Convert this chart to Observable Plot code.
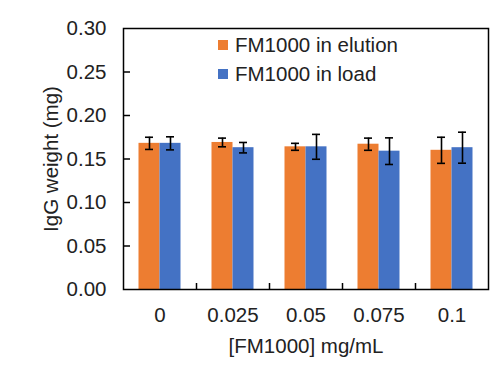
<!DOCTYPE html>
<html>
<head>
<meta charset="utf-8">
<script src="https://cdn.jsdelivr.net/npm/d3@7"></script>
<script src="https://cdn.jsdelivr.net/npm/@observablehq/plot@0.6"></script>
<style>
  html, body { margin: 0; padding: 0; background: #fff; }
  #wrap { position: relative; width: 497px; height: 375px; font-family: "Liberation Sans", Arial, sans-serif; }
  #legend { position: absolute; left: 218px; top: 30px; font-size: 20.5px; color: #222; line-height: 29px; }
  #legend .item { display: flex; align-items: center; white-space: nowrap; }
  #legend .sw { width: 10px; height: 10px; margin-right: 7px; }
</style>
</head>
<body>
<div id="wrap"><div id="legend"></div></div>
<script>
const categories = ["0", "0.025", "0.05", "0.075", "0.1"];
const seriesNames = ["FM1000 in elution", "FM1000 in load"];
const seriesColors = ["#ED7D31", "#4472C4"];
const elution = [0.168, 0.169, 0.164, 0.167, 0.160];
const elutionErr = [0.007, 0.005, 0.004, 0.007, 0.015];
const load = [0.168, 0.163, 0.164, 0.159, 0.163];
const loadErr = [0.0075, 0.006, 0.0143, 0.0153, 0.0178];
const yTicks = [0, 0.05, 0.10, 0.15, 0.20, 0.25, 0.30];

const W = 497, H = 375, mL = 123, mR = 9, mT = 28, mB = 86;
const B = (W - mL - mR) / categories.length; // band width
const PW = W - mL - mR, PH = H - mT - mB;
const half = 21;   // bar width
const capH = 4;    // cap half-width

const el = categories.map((c, i) => ({cat: c, v: elution[i], e: elutionErr[i]}));
const ld = categories.map((c, i) => ({cat: c, v: load[i], e: loadErr[i]}));

const centerO = B / 2 - half / 2, centerB = B / 2 + half / 2;

const chart = Plot.plot({
  width: W, height: H,
  marginLeft: mL, marginRight: mR, marginTop: mT, marginBottom: mB,
  style: {fontFamily: "Liberation Sans, Arial, sans-serif", fontSize: "20.5px", color: "#222", background: "white"},
  x: {type: "band", domain: categories, paddingInner: 0, paddingOuter: 0},
  y: {domain: [0, 0.3]},
  marks: [
    Plot.barY(el, {x: "cat", y: "v", fill: seriesColors[0], insetLeft: B / 2 - half, insetRight: B / 2}),
    Plot.barY(ld, {x: "cat", y: "v", fill: seriesColors[1], insetLeft: B / 2, insetRight: B / 2 - half}),
    Plot.ruleX(el, {x: "cat", y1: d => d.v - d.e, y2: d => d.v + d.e, dx: -half / 2, stroke: "black", strokeWidth: 1.6}),
    Plot.ruleX(ld, {x: "cat", y1: d => d.v - d.e, y2: d => d.v + d.e, dx: half / 2, stroke: "black", strokeWidth: 1.6}),
    Plot.tickY(el, {x: "cat", y: d => d.v + d.e, insetLeft: centerO - capH, insetRight: B - centerO - capH, stroke: "black", strokeWidth: 1.6}),
    Plot.tickY(el, {x: "cat", y: d => d.v - d.e, insetLeft: centerO - capH, insetRight: B - centerO - capH, stroke: "black", strokeWidth: 1.6}),
    Plot.tickY(ld, {x: "cat", y: d => d.v + d.e, insetLeft: centerB - capH, insetRight: B - centerB - capH, stroke: "black", strokeWidth: 1.6}),
    Plot.tickY(ld, {x: "cat", y: d => d.v - d.e, insetLeft: centerB - capH, insetRight: B - centerB - capH, stroke: "black", strokeWidth: 1.6}),
    // inward tick marks
    Plot.ruleX(categories.slice(1), {x: d => d, dx: -B / 2, insetTop: PH - 6, stroke: "black", strokeWidth: 1.5}),
    Plot.ruleY(yTicks.slice(1, -1), {y: d => d, insetRight: PW - 7, stroke: "black", strokeWidth: 1.5}),
    Plot.frame({stroke: "black", strokeWidth: 1.5}),
    Plot.axisX({tickSize: 0, tickPadding: 18, label: "[FM1000] mg/mL", labelAnchor: "center", labelArrow: "none", labelOffset: 63, fill: "#222"}),
    Plot.axisY({ticks: yTicks, tickFormat: d3.format(".2f"), tickSize: 0, tickPadding: 17, label: "IgG weight (mg)", labelAnchor: "center", labelArrow: "none", labelOffset: 80, fill: "#222"})
  ]
});
document.getElementById("wrap").prepend(chart);

const legend = document.getElementById("legend");
seriesNames.forEach((n, i) => {
  const item = document.createElement("div");
  item.className = "item";
  const sw = document.createElement("span");
  sw.className = "sw";
  sw.style.background = seriesColors[i];
  item.appendChild(sw);
  item.appendChild(document.createTextNode(n));
  legend.appendChild(item);
});
</script>
</body>
</html>
